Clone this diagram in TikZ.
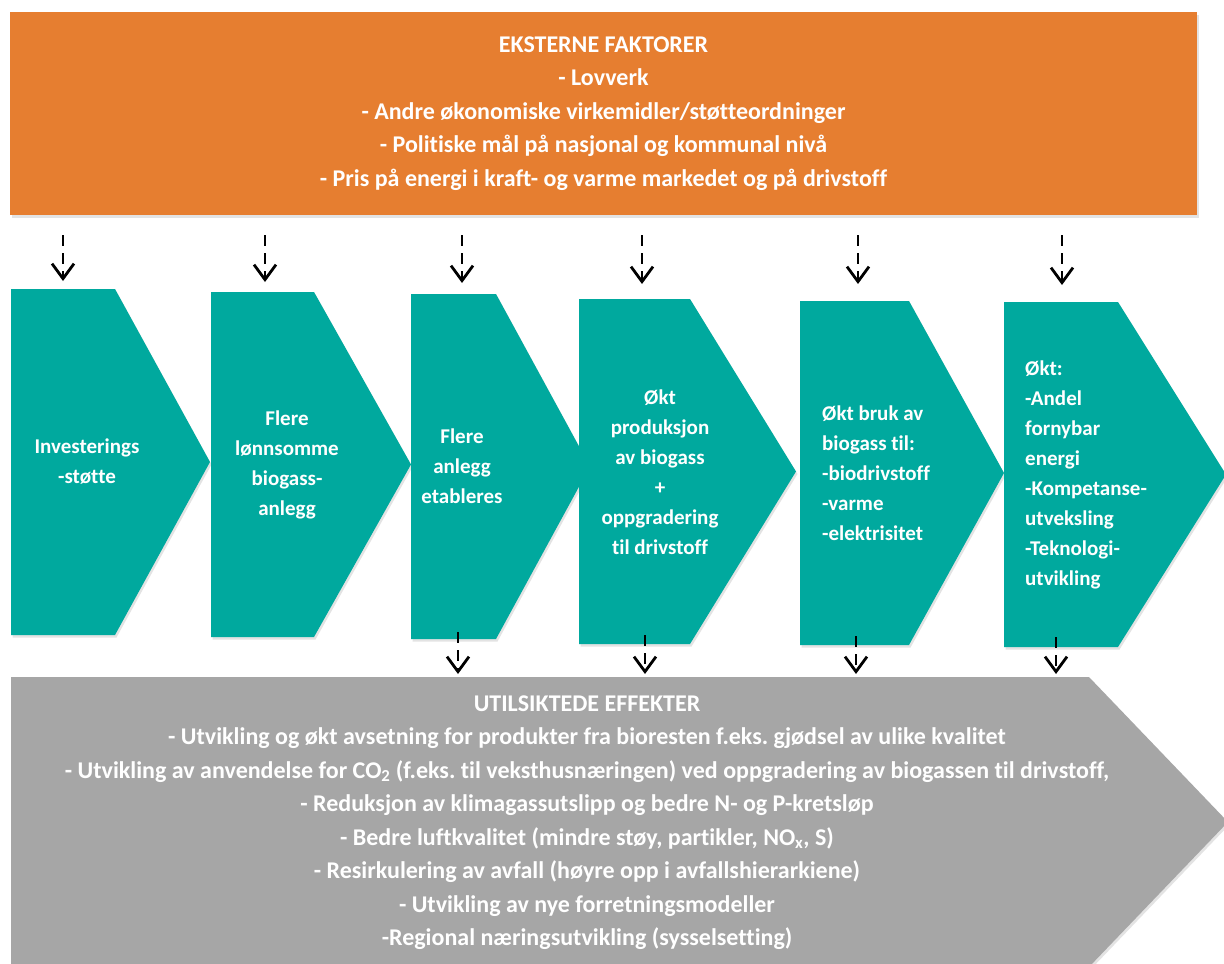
\documentclass[tikz,border=0pt]{standalone}
\usepackage{fontspec}
\setmainfont{Carlito}[Ligatures=NoCommon]
\usetikzlibrary{arrows.meta, shadows}
\frenchspacing

\definecolor{extorange}{RGB}{230,126,48}
\definecolor{chevteal}{RGB}{0,169,158}
\definecolor{effgray}{RGB}{166,166,166}

\begin{document}
\begin{tikzpicture}[x=1pt, y=-1pt, >={Straight Barb[length=15pt, width=22pt]}]
		\tikzstyle{softshadow} = [drop shadow={opacity=0.22, shadow xshift=1.5pt, shadow yshift=-2.5pt}]
		\tikzstyle{chev} = [fill=chevteal, softshadow]
		\tikzstyle{extbox} = [fill=extorange, softshadow, minimum width=1187pt, minimum height=203pt, text=white, align=center, font=\bfseries\fontsize{24}{33.5}\selectfont]
		\tikzstyle{efftext} = [text=white, align=center, font=\bfseries\fontsize{24}{33.5}\selectfont]
		\tikzstyle{chevtext} = [text=white, align=center, font=\bfseries\fontsize{21}{30}\selectfont]
		\tikzstyle{chevlist} = [chevtext, align=left, anchor=west, inner sep=0pt]
		\tikzstyle{flow} = [->, line width=2.8pt, dash pattern=on 11pt off 7pt]

		\path[use as bounding box, fill=white] (0,0) rectangle (1224,964);

		% external factors
		\node[extbox] at (603.5,113.5) (ext) {EKSTERNE FAKTORER\\
			- Lovverk\\
			- Andre økonomiske virkemidler/støtteordninger\\
			- Politiske mål på nasjonal og kommunal nivå\\
			- Pris på energi i kraft- og varme markedet og på drivstoff};

		% unintended effects
		\fill[effgray, softshadow] (11,677) -- (1089,677) -- (1228,822) -- (1089,967) -- (11,967) -- cycle;
		\coordinate (efftop) at (11,677);
		\node[efftext] at (587,822.5) (eff) {UTILSIKTEDE EFFEKTER\\
			- Utvikling og økt avsetning for produkter fra bioresten f.eks. gjødsel av ulike kvalitet\\
			- Utvikling av anvendelse for CO\textsubscript{2} (f.eks. til veksthusnæringen) ved oppgradering av biogassen til drivstoff,\\
			- Reduksjon av klimagassutslipp og bedre N- og P-kretsløp\\
			- Bedre luftkvalitet (mindre støy, partikler, NO\textsubscript{x}, S)\\
			- Resirkulering av avfall (høyre opp i avfallshierarkiene)\\
			- Utvikling av nye forretningsmodeller\\
			-Regional næringsutvikling (sysselsetting)};

		% chain of steps
		\fill[chev] (11,289) -- (115,289) -- (210,462) -- (115,635) -- (11,635) -- cycle;
		\fill[chev] (211,292) -- (314,292) -- (411,464.5) -- (314,637) -- (211,637) -- cycle;
		\fill[chev] (411,294) -- (496,294) -- (590,466.5) -- (496,639) -- (411,639) -- cycle;
		\fill[chev] (579,299) -- (690,299) -- (796,471.5) -- (690,644) -- (579,644) -- cycle;
		\fill[chev] (800,301) -- (909,301) -- (1004,473) -- (909,645) -- (800,645) -- cycle;
		\fill[chev] (1004,302) -- (1118,302) -- (1226,474.5) -- (1118,647) -- (1004,647) -- cycle;

		\node[chevtext] at (87,462) (s1) {Investerings\\-støtte};
		\node[chevtext] at (287,464.5) (s2) {Flere\\lønnsomme\\biogass-\\anlegg};
		\node[chevtext] at (462,466.5) (s3) {Flere\\anlegg\\etableres};
		\node[chevtext] at (660,472) (s4) {Økt\\produksjon\\av biogass\\+\\oppgradering\\til drivstoff};
		\node[chevlist] at (822,473) (s5) {Økt bruk av\\biogass til:\\-biodrivstoff\\-varme\\-elektrisitet};
		\node[chevlist] at (1025,475) (s6) {Økt:\\-Andel\\fornybar\\energi\\-Kompetanse-\\utveksling\\-Teknologi-\\utvikling};

		% arrow ends
		\coordinate (in1) at (63,281);
		\coordinate (in2) at (265,282);
		\coordinate (in3) at (462,283);
		\coordinate (in4) at (642,284);
		\coordinate (in5) at (858,284);
		\coordinate (in6) at (1062,285);
		\coordinate (out3) at (458,632);
		\coordinate (out4) at (645,635);
		\coordinate (out5) at (856,636);
		\coordinate (out6) at (1056,637);

		\draw[flow, shorten <=20pt] (ext.south -| in1) -- (in1);
		\draw[flow, shorten <=20pt] (ext.south -| in2) -- (in2);
		\draw[flow, shorten <=20pt] (ext.south -| in3) -- (in3);
		\draw[flow, shorten <=20pt] (ext.south -| in4) -- (in4);
		\draw[flow, shorten <=20pt] (ext.south -| in5) -- (in5);
		\draw[flow, shorten <=20pt] (ext.south -| in6) -- (in6);

		\draw[flow, shorten >=3pt] (out3) -- (out3 |- efftop);
		\draw[flow, shorten >=3pt] (out4) -- (out4 |- efftop);
		\draw[flow, shorten >=3pt] (out5) -- (out5 |- efftop);
		\draw[flow, shorten >=3pt] (out6) -- (out6 |- efftop);
\end{tikzpicture}
\end{document}
